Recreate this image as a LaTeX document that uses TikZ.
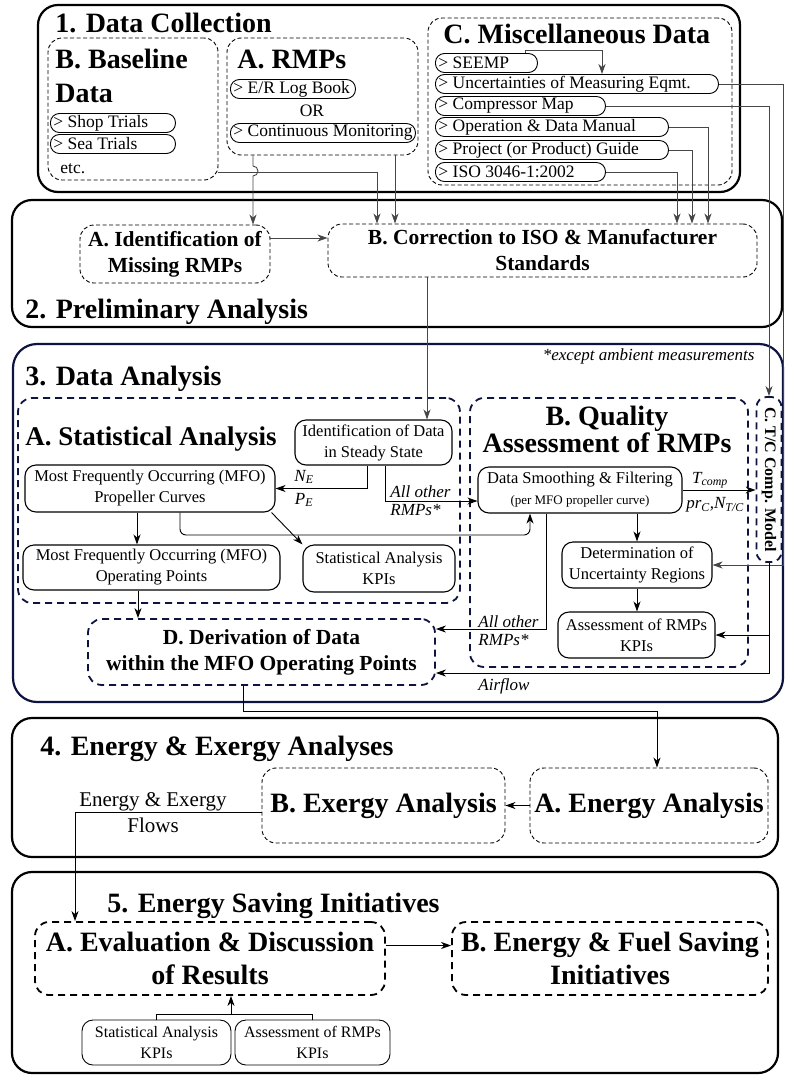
\documentclass[tikz,border=0pt]{standalone}
\usepackage{fontspec}
\setmainfont{Liberation Serif}
\usetikzlibrary{arrows.meta}

\definecolor{navy}{RGB}{14,20,64}
\definecolor{wire}{RGB}{70,70,70}

\newcommand\fhead{\fontsize{28}{33}\selectfont\bfseries}
\newcommand\fmid{\fontsize{21.5}{26}\selectfont\bfseries}
\newcommand\fpill{\fontsize{17.5}{19}\selectfont}
\newcommand\fproc{\fontsize{16.5}{21}\selectfont}
\newcommand\flab{\fontsize{17}{18}\selectfont\itshape}
\newcommand\fflow{\fontsize{21}{24}\selectfont}
\newcommand\pl[2]{\makebox[#1][l]{#2}}

\tikzset{
  secbox/.style={draw, line width=2.2pt, rounded corners=20pt},
  thindash/.style={draw, line width=0.9pt, dash pattern=on 4pt off 2.5pt, rounded corners=14pt},
  thickdash/.style={draw, line width=1.8pt, dash pattern=on 7pt off 5pt, rounded corners=14pt},
  ttl/.style={font=\fhead, inner sep=0pt, anchor=base west},
  pill/.style={draw, line width=0.9pt, rounded corners=9pt, anchor=west, font=\fpill,
    inner xsep=3pt, inner ysep=0pt, minimum height=19pt},
  proc/.style={draw, line width=1.1pt, rounded corners=11pt, align=center, font=\fproc, inner sep=0pt},
  lab/.style={font=\flab, inner sep=0pt},
  arr/.style={-{Stealth[length=10pt,width=7pt,inset=3pt]}},
}

\begin{document}
\begin{tikzpicture}[x=1pt, y=-1pt, line width=0.9pt]
  \useasboundingbox (0,0) rectangle (785,1077);

  % 1. data collection
  \node[secbox, minimum width=702pt, minimum height=187pt] (sec1) at (389,98.5) {};
  \node[ttl] (t1) at (55,32) {1. Data Collection};

  \node[thindash, minimum width=170pt, minimum height=142pt] (base) at (133,109) {};
  \node[ttl] (baset) at (55,68) {B. Baseline};
  \node[ttl] (basetb) at (55,102) {Data};
  \node[pill] (shop) at (50,123) {\pl{119pt}{> Shop Trials}};
  \node[pill] (sea) at (50,144) {\pl{119pt}{> Sea Trials}};
  \node[font=\fpill, anchor=base west, inner sep=0pt] (etc) at (60,173) {etc.};

  \node[thindash, minimum width=191pt, minimum height=117pt] (rmps) at (322.5,96.5) {};
  \node[ttl] (rmpst) at (237,68) {A. RMPs};
  \node[pill] (erlog) at (230,89) {\pl{119pt}{> E/R Log Book}};
  \node[font=\fpill, inner sep=0pt] (or) at (312,111) {OR};
  \node[pill] (contmon) at (230,133) {\pl{179pt}{> Continuous Monitoring}};

  \node[thindash, minimum width=304pt, minimum height=167pt] (misc) at (580,101.5) {};
  \node[ttl] (misct) at (443,43) {C. Miscellaneous Data};
  \node[pill] (seemp) at (435,63) {\pl{96pt}{> SEEMP}};
  \node[pill] (uncert) at (435,84) {\pl{277pt}{> Uncertainties of Measuring Eqmt.}};
  \node[pill] (comp) at (435,106) {\pl{164pt}{> Compressor Map}};
  \node[pill] (opman) at (435,127) {\pl{227pt}{> Operation \& Data Manual}};
  \node[pill] (guide) at (435,150) {\pl{227pt}{> Project (or Product) Guide}};
  \node[pill] (iso) at (435,172) {\pl{164pt}{> ISO 3046-1:2002}};

  % 2. preliminary analysis
  \node[secbox, minimum width=770pt, minimum height=127pt] (sec2) at (397,263.5) {};
  \node[thindash, font=\fmid, align=center, minimum width=190pt, minimum height=58pt, inner sep=0pt]
    (idmiss) at (175,254) {A. Identification of\\Missing RMPs};
  \node[thindash, font=\fmid, align=center, minimum width=429pt, minimum height=53pt, inner sep=0pt]
    (corr) at (542.5,250.5) {B. Correction to ISO \& Manufacturer\\Standards};
  \node[ttl] (t2) at (25,318) {2. Preliminary Analysis};

  % 3. data analysis
  \node[secbox, draw=navy, rounded corners=24pt, minimum width=770pt, minimum height=358pt] (sec3) at (398,523) {};
  \node[ttl] (t3) at (25,385) {3. Data Analysis};
  \node[lab, anchor=base east] (except) at (755,360) {*except ambient measurements};

  \node[thickdash, draw=navy, minimum width=442pt, minimum height=205pt] (statbox) at (239,500.5) {};
  \node[ttl, font=\fontsize{27}{30}\selectfont\bfseries] (statt) at (25,445) {A. Statistical Analysis};
  \node[proc, minimum width=157pt, minimum height=45pt] (steady) at (373.5,442.5) {Identification of Data\\in Steady State};
  \node[proc, minimum width=250pt, minimum height=47pt] (mfocurve) at (150,488.5) {Most Frequently Occurring (MFO)\\Propeller Curves};
  \node[proc, minimum width=257pt, minimum height=45pt] (mfopts) at (151.5,567.5) {Most Frequently Occurring (MFO)\\Operating Points};
  \node[proc, minimum width=152pt, minimum height=47pt] (statkpi) at (379,568.5) {Statistical Analysis\\KPIs};

  \node[thickdash, draw=navy, minimum width=278pt, minimum height=269pt] (qualbox) at (609,532.5) {};
  \node[font=\fhead, inner sep=0pt, anchor=base] (qualt) at (607,425) {B. Quality};
  \node[font=\fhead, inner sep=0pt, anchor=base] (qualtb) at (607,452) {Assessment of RMPs};
  \node[proc, minimum width=204pt, minimum height=46pt] (smooth) at (580,490)
    {Data Smoothing \& Filtering\\{\fontsize{13}{15}\selectfont (per MFO propeller curve)}};
  \node[proc, minimum width=150pt, minimum height=46pt] (determ) at (637,565) {Determination of\\Uncertainty Regions};
  \node[proc, minimum width=157pt, minimum height=46pt] (assess) at (636.5,635) {Assessment of RMPs\\KPIs};

  \node[thickdash, draw=navy, rounded corners=10pt, minimum width=25pt, minimum height=165pt] (tc) at (769,479.5) {};
  \node[font=\fontsize{16}{17}\selectfont\bfseries, rotate=-90, inner sep=0pt] (tct) at (tc.center) {C. T/C Comp. Model};

  \node[thickdash, draw=navy, font=\fmid, align=center, minimum width=347pt, minimum height=66pt, inner sep=0pt]
    (dbox) at (261.5,652) {D. Derivation of Data\\within the MFO Operating Points};

  % 4. energy and exergy
  \node[secbox, minimum width=766pt, minimum height=139pt] (sec4) at (395,787.5) {};
  \node[ttl] (t4) at (40,755) {4. Energy \& Exergy Analyses};
  \node[thindash, font=\fhead, minimum width=243pt, minimum height=75pt, inner sep=0pt] (exer) at (383.5,805.5) {B. Exergy Analysis};
  \node[thindash, font=\fhead, minimum width=238pt, minimum height=75pt, inner sep=0pt] (ener) at (649,805.5) {A. Energy Analysis};
  \node[font=\fflow, inner sep=0pt, anchor=base] (eflow) at (153,806) {Energy \& Exergy};
  \node[font=\fflow, inner sep=0pt, anchor=base] (eflowb) at (153,832) {Flows};

  % 5. energy saving
  \node[secbox, minimum width=766pt, minimum height=201pt] (sec5) at (395,972.5) {};
  \node[ttl] (t5) at (107,912) {5. Energy Saving Initiatives};
  \node[thickdash, font=\fhead, align=center, minimum width=350pt, minimum height=73pt, inner sep=0pt]
    (evalb) at (210,958.5) {A. Evaluation \& Discussion\\of Results};
  \node[thickdash, font=\fhead, align=center, minimum width=316pt, minimum height=73pt, inner sep=0pt]
    (fuel) at (610,958.5) {B. Energy \& Fuel Saving\\Initiatives};
  \node[proc, line width=0.9pt, font=\fontsize{16}{21}\selectfont, minimum width=149pt, minimum height=45pt]
    (kpi1) at (156.5,1042.5) {Statistical Analysis\\KPIs};
  \node[proc, line width=0.9pt, font=\fontsize{16}{21}\selectfont, minimum width=155pt, minimum height=45pt]
    (kpi2) at (312.5,1042.5) {Assessment of RMPs\\KPIs};
  \coordinate (join) at (231,1015);

  % wires from the data sources
  \draw[wire, arr] (253,0 |- rmps.south) -- (253,166) arc[start angle=90, end angle=-90, radius=5pt]
    -- (253,0 |- idmiss.north);
  \draw[wire, arr] (base.east |- 0,172) -| (377,0 |- corr.north);
  \draw[wire, arr] (395,0 |- rmps.south) -- (395,0 |- corr.north);
  \draw[wire, arr] (525,0 |- seemp.north) -- (525,50) -| (602,0 |- uncert.north);
  \draw[wire, arr] (iso.east) -| (677,0 |- corr.north);
  \draw[wire, arr] (guide.east) -| (692,0 |- corr.north);
  \draw[wire, arr] (opman.east) -| (708,0 |- corr.north);
  \draw[wire, arr] (comp.east) -| (tc.north);
  \draw[wire, arr] (uncert.east) -| (783,0 |- determ.east) -- (determ.east);
  \draw[wire, arr] (idmiss.east |- 0,238) -- (corr.west |- 0,238);
  \draw[wire, arr] (427,0 |- corr.south) -- (427,0 |- steady.north);

  % data analysis flow
  \draw[arr] (367,0 |- steady.south) |- (mfocurve.east);
  \node[lab] (ne) at (304,477) {N\textsubscript{E}};
  \node[lab] (pe) at (304,500) {P\textsubscript{E}};
  \draw[arr] (385,0 |- steady.south) |- ([yshift=-11pt]smooth.west);
  \node[lab, anchor=west] (allo) at (390,492) {All other};
  \node[lab, anchor=west] (allob) at (390,510) {RMPs*};
  \draw[arr] ([xshift=-4pt]mfocurve.south east) -- (statkpi.north west);
  \draw[arr, rounded corners=6pt] (180,0 |- mfocurve.south) |- (530,535) -- (530,0 |- smooth.south);
  \draw[arr] (137,0 |- mfocurve.south) -- (137,0 |- mfopts.north);
  \draw[arr] (138,0 |- mfopts.south) -- (138,0 |- dbox.north);
  \draw[arr] (smooth.east) -- (tc.west |- smooth.east);
  \node[lab] (tcomp) at (710,480) {T\textsubscript{comp}};
  \node[lab] (prc) at (715,505) {pr\textsubscript{C},N\textsubscript{T/C}};
  \draw[arr] (determ.north |- smooth.south) -- (determ.north);
  \draw[arr] (determ.south) -- (determ.south |- assess.north);
  \draw[arr] (546,0 |- smooth.south) |- ([yshift=23pt]dbox.east);
  \node[lab, anchor=west] (allc) at (478,622) {All other};
  \node[lab, anchor=west] (allcb) at (478,640) {RMPs*};
  \draw[arr] (tc.south) |- ([yshift=-21pt]dbox.east);
  \draw[arr] (tc.south |- assess.east) -- (assess.east);
  \node[lab, anchor=west] (airf) at (478,686) {Airflow};

  % energy analyses and initiatives
  \draw[arr] (243,0 |- dbox.south) |- (657,711) -- (657,0 |- ener.north);
  \draw[arr] (ener.west) -- (exer.east);
  \draw[arr] ([yshift=-6.5pt]exer.west) -| (75,0 |- evalb.north);
  \draw[arr] ([yshift=13pt]evalb.east) -- ([yshift=13pt]fuel.west);
  \draw (kpi1.north) -- ++(0,-5) -| (kpi2.north);
  \draw[arr] (join) -- (join |- evalb.south);
\end{tikzpicture}
\end{document}
